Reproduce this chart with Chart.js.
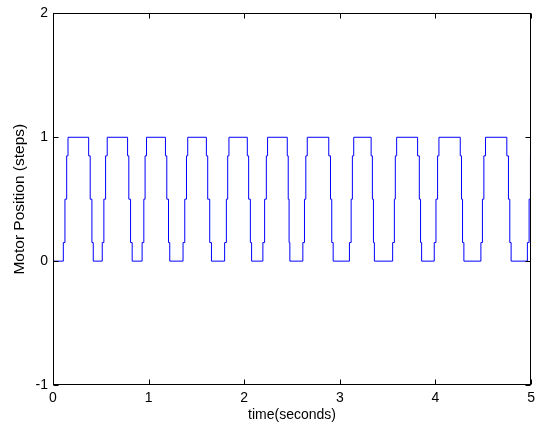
<!DOCTYPE html>
<html>
<head>
<meta charset="utf-8">
<script src="https://cdn.jsdelivr.net/npm/chart.js@4.4.1/dist/chart.umd.min.js"></script>
<style>
  html, body { margin: 0; padding: 0; background: #fff; }
  #wrap { width: 540px; height: 431px; }
</style>
</head>
<body>
<div id="wrap"><canvas id="myChart" width="540" height="431"></canvas></div>
<script>
// time of each step (seconds) and the motor position after that step
const times = [
  0,
  0.108, 0.125, 0.143, 0.157,
  0.373, 0.389, 0.407, 0.421,
  0.515, 0.532, 0.550, 0.567,
  0.780, 0.793, 0.811, 0.828,
  0.932, 0.950, 0.963, 0.978,
  1.176, 1.190, 1.208, 1.221,
  1.360, 1.378, 1.396, 1.409,
  1.604, 1.618, 1.639, 1.657,
  1.795, 1.813, 1.827, 1.840,
  2.032, 2.046, 2.064, 2.077,
  2.195, 2.213, 2.231, 2.244,
  2.450, 2.460, 2.469, 2.477,
  2.613, 2.630, 2.644, 2.659,
  2.884, 2.902, 2.915, 2.930,
  3.100, 3.118, 3.131, 3.145,
  3.327, 3.340, 3.351, 3.361,
  3.552, 3.570, 3.580, 3.594,
  3.813, 3.831, 3.844, 3.855,
  3.987, 4.005, 4.022, 4.036,
  4.259, 4.272, 4.283, 4.297,
  4.475, 4.491, 4.506, 4.523,
  4.746, 4.763, 4.777, 4.791,
  4.961, 4.979, 4.993,
  5.0
];

const positions = [
  0,
  0.15, 0.5, 0.85, 1,
  0.85, 0.5, 0.15, 0,
  0.15, 0.5, 0.85, 1,
  0.85, 0.5, 0.15, 0,
  0.15, 0.5, 0.85, 1,
  0.85, 0.5, 0.15, 0,
  0.15, 0.5, 0.85, 1,
  0.85, 0.5, 0.15, 0,
  0.15, 0.5, 0.85, 1,
  0.85, 0.5, 0.15, 0,
  0.15, 0.5, 0.85, 1,
  0.85, 0.5, 0.15, 0,
  0.15, 0.5, 0.85, 1,
  0.85, 0.5, 0.15, 0,
  0.15, 0.5, 0.85, 1,
  0.85, 0.5, 0.15, 0,
  0.15, 0.5, 0.85, 1,
  0.85, 0.5, 0.15, 0,
  0.15, 0.5, 0.85, 1,
  0.85, 0.5, 0.15, 0,
  0.15, 0.5, 0.85, 1,
  0.85, 0.5, 0.15, 0,
  0.15, 0.5, 0.85,
  0.85
];

const xTicks = [0, 1, 2, 3, 4, 5];
const yTicks = [-1, 0, 1, 2];

const font = { family: "Arial, 'Liberation Sans', sans-serif", size: 14 };
const yTitleFont = { family: "Arial, 'Liberation Sans', sans-serif", size: 15.5 };

// matlab style box with inward ticks on all four sides
const boxPlugin = {
  id: "box",
  afterDraw(chart) {
    const { ctx, chartArea: a, scales } = chart;
    const L = Math.round(a.left) + 0.5, R = Math.round(a.right) - 0.5;
    const T = Math.round(a.top) + 0.5, B = Math.round(a.bottom) - 0.5;
    const len = 5;
    ctx.save();
    ctx.strokeStyle = "#000";
    ctx.lineWidth = 1;
    ctx.strokeRect(L, T, R - L, B - T);
    ctx.beginPath();
    xTicks.forEach((v) => {
      const px = Math.round(scales.x.getPixelForValue(v)) + 0.5;
      ctx.moveTo(px, B); ctx.lineTo(px, B - len);
      ctx.moveTo(px, T); ctx.lineTo(px, T + len);
    });
    yTicks.forEach((v) => {
      const py = Math.round(scales.y.getPixelForValue(v)) + 0.5;
      ctx.moveTo(L, py); ctx.lineTo(L + len, py);
      ctx.moveTo(R, py); ctx.lineTo(R - len, py);
    });
    ctx.stroke();
    ctx.restore();
  },
};

const ctx = document.getElementById("myChart");
new Chart(ctx, {
  type: "line",
  data: {
    datasets: [
      {
        data: times.map((t, i) => ({ x: t, y: positions[i] })),
        borderColor: "#0000ff",
        borderWidth: 1,
        pointRadius: 0,
        stepped: true,
        fill: false,
      },
    ],
  },
  options: {
    responsive: false,
    animation: false,
    layout: { padding: { left: 0, right: 6, top: 12, bottom: 0 } },
    plugins: { legend: { display: false }, tooltip: { enabled: false } },
    scales: {
      x: {
        type: "linear",
        min: 0,
        max: 5,
        afterBuildTicks: (s) => { s.ticks = xTicks.map((v) => ({ value: v })); },
        afterFit: (s) => { s.height = 46; },
        ticks: { color: "#000", font: font, padding: 5, maxRotation: 0 },
        grid: { display: false, drawTicks: false },
        border: { display: false },
        title: { display: true, text: "time(seconds)", color: "#000", font: font, padding: { top: 0, bottom: 7 } },
      },
      y: {
        min: -1,
        max: 2,
        afterBuildTicks: (s) => { s.ticks = yTicks.map((v) => ({ value: v })); },
        afterFit: (s) => { s.width = 53; },
        ticks: { color: "#000", font: font, padding: 5 },
        grid: { display: false, drawTicks: false },
        border: { display: false },
        title: { display: true, text: "Motor Position (steps)", color: "#000", font: yTitleFont, padding: { top: 10, bottom: 0 } },
      },
    },
  },
  plugins: [boxPlugin],
});
</script>
</body>
</html>
